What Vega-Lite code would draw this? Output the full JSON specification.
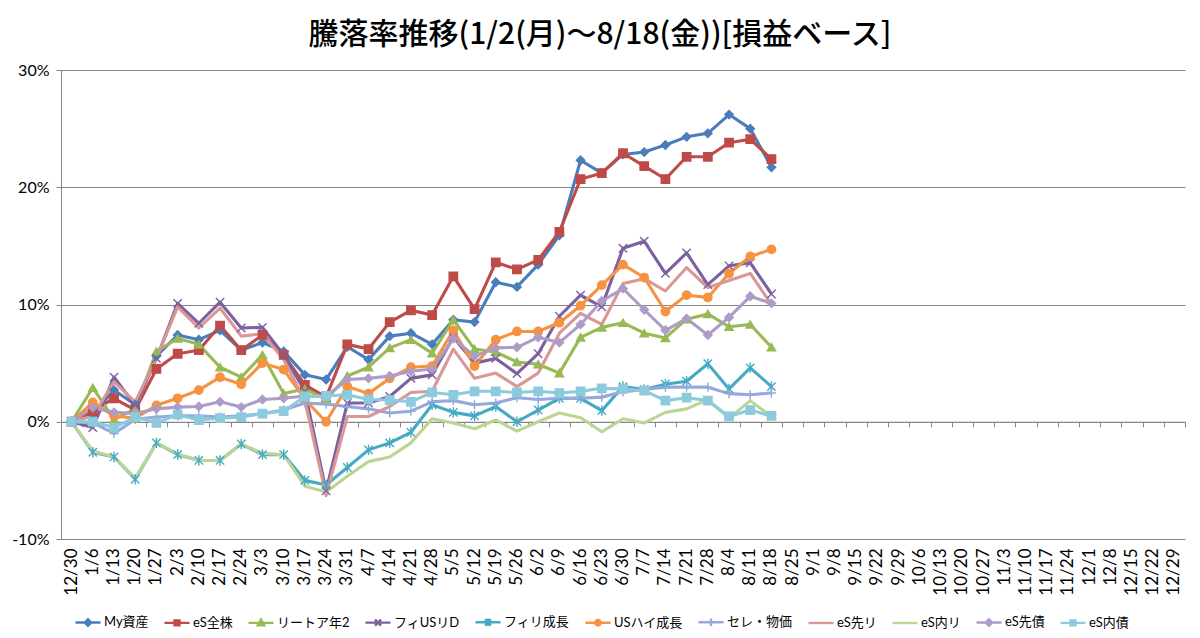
{
  "$schema": "https://vega.github.io/schema/vega-lite/v6.json",
  "width": 1124,
  "height": 469,
  "autosize": {"type": "none"},
  "padding": {"left": 61, "top": 70, "right": 15, "bottom": 99},
  "background": "white",
  "title": {
    "text": "騰落率推移(1/2(月)～8/18(金))[損益ベース]",
    "font": "Noto Sans CJK JP",
    "fontSize": 30,
    "fontWeight": 500,
    "color": "#000000",
    "anchor": "middle",
    "dx": -23,
    "offset": 12
  },
  "data": {
    "values": [
      {"d":"12/30","s":"My資産","v":0},{"d":"1/6","s":"My資産","v":0.6},{"d":"1/13","s":"My資産","v":2.7},{"d":"1/20","s":"My資産","v":1.45},{"d":"1/27","s":"My資産","v":5.6},{"d":"2/3","s":"My資産","v":7.4},{"d":"2/10","s":"My資産","v":7.0},{"d":"2/17","s":"My資産","v":7.8},{"d":"2/24","s":"My資産","v":6.1},{"d":"3/3","s":"My資産","v":6.75},{"d":"3/10","s":"My資産","v":6.0},{"d":"3/17","s":"My資産","v":4.0},{"d":"3/24","s":"My資産","v":3.6},{"d":"3/31","s":"My資産","v":6.4},{"d":"4/7","s":"My資産","v":5.3},{"d":"4/14","s":"My資産","v":7.3},{"d":"4/21","s":"My資産","v":7.55},{"d":"4/28","s":"My資産","v":6.6},{"d":"5/5","s":"My資産","v":8.7},{"d":"5/12","s":"My資産","v":8.5},{"d":"5/19","s":"My資産","v":11.9},{"d":"5/26","s":"My資産","v":11.5},{"d":"6/2","s":"My資産","v":13.4},{"d":"6/9","s":"My資産","v":15.9},{"d":"6/16","s":"My資産","v":22.3},{"d":"6/23","s":"My資産","v":21.2},{"d":"6/30","s":"My資産","v":22.8},{"d":"7/7","s":"My資産","v":23.0},{"d":"7/14","s":"My資産","v":23.6},{"d":"7/21","s":"My資産","v":24.3},{"d":"7/28","s":"My資産","v":24.6},{"d":"8/4","s":"My資産","v":26.2},{"d":"8/11","s":"My資産","v":25.0},{"d":"8/18","s":"My資産","v":21.7},
      {"d":"12/30","s":"eS全株","v":0},{"d":"1/6","s":"eS全株","v":0.9},{"d":"1/13","s":"eS全株","v":2.0},{"d":"1/20","s":"eS全株","v":1.0},{"d":"1/27","s":"eS全株","v":4.5},{"d":"2/3","s":"eS全株","v":5.8},{"d":"2/10","s":"eS全株","v":6.1},{"d":"2/17","s":"eS全株","v":8.2},{"d":"2/24","s":"eS全株","v":6.1},{"d":"3/3","s":"eS全株","v":7.4},{"d":"3/10","s":"eS全株","v":5.7},{"d":"3/17","s":"eS全株","v":3.15},{"d":"3/24","s":"eS全株","v":2.1},{"d":"3/31","s":"eS全株","v":6.6},{"d":"4/7","s":"eS全株","v":6.2},{"d":"4/14","s":"eS全株","v":8.5},{"d":"4/21","s":"eS全株","v":9.5},{"d":"4/28","s":"eS全株","v":9.1},{"d":"5/5","s":"eS全株","v":12.4},{"d":"5/12","s":"eS全株","v":9.6},{"d":"5/19","s":"eS全株","v":13.6},{"d":"5/26","s":"eS全株","v":13.0},{"d":"6/2","s":"eS全株","v":13.8},{"d":"6/9","s":"eS全株","v":16.2},{"d":"6/16","s":"eS全株","v":20.7},{"d":"6/23","s":"eS全株","v":21.2},{"d":"6/30","s":"eS全株","v":22.9},{"d":"7/7","s":"eS全株","v":21.8},{"d":"7/14","s":"eS全株","v":20.7},{"d":"7/21","s":"eS全株","v":22.6},{"d":"7/28","s":"eS全株","v":22.6},{"d":"8/4","s":"eS全株","v":23.8},{"d":"8/11","s":"eS全株","v":24.1},{"d":"8/18","s":"eS全株","v":22.4},
      {"d":"12/30","s":"リートア年2","v":0},{"d":"1/6","s":"リートア年2","v":2.9},{"d":"1/13","s":"リートア年2","v":0.2},{"d":"1/20","s":"リートア年2","v":1.1},{"d":"1/27","s":"リートア年2","v":6.0},{"d":"2/3","s":"リートア年2","v":7.1},{"d":"2/10","s":"リートア年2","v":6.6},{"d":"2/17","s":"リートア年2","v":4.65},{"d":"2/24","s":"リートア年2","v":3.8},{"d":"3/3","s":"リートア年2","v":5.7},{"d":"3/10","s":"リートア年2","v":2.4},{"d":"3/17","s":"リートア年2","v":2.8},{"d":"3/24","s":"リートア年2","v":1.9},{"d":"3/31","s":"リートア年2","v":3.9},{"d":"4/7","s":"リートア年2","v":4.65},{"d":"4/14","s":"リートア年2","v":6.3},{"d":"4/21","s":"リートア年2","v":7.0},{"d":"4/28","s":"リートア年2","v":5.85},{"d":"5/5","s":"リートア年2","v":8.7},{"d":"5/12","s":"リートア年2","v":6.2},{"d":"5/19","s":"リートア年2","v":5.95},{"d":"5/26","s":"リートア年2","v":5.1},{"d":"6/2","s":"リートア年2","v":4.9},{"d":"6/9","s":"リートア年2","v":4.15},{"d":"6/16","s":"リートア年2","v":7.2},{"d":"6/23","s":"リートア年2","v":8.05},{"d":"6/30","s":"リートア年2","v":8.45},{"d":"7/7","s":"リートア年2","v":7.55},{"d":"7/14","s":"リートア年2","v":7.15},{"d":"7/21","s":"リートア年2","v":8.75},{"d":"7/28","s":"リートア年2","v":9.2},{"d":"8/4","s":"リートア年2","v":8.1},{"d":"8/11","s":"リートア年2","v":8.3},{"d":"8/18","s":"リートア年2","v":6.35},
      {"d":"12/30","s":"フィUSリD","v":0},{"d":"1/6","s":"フィUSリD","v":-0.5},{"d":"1/13","s":"フィUSリD","v":3.8},{"d":"1/20","s":"フィUSリD","v":1.4},{"d":"1/27","s":"フィUSリD","v":5.4},{"d":"2/3","s":"フィUSリD","v":10.1},{"d":"2/10","s":"フィUSリD","v":8.4},{"d":"2/17","s":"フィUSリD","v":10.2},{"d":"2/24","s":"フィUSリD","v":8.0},{"d":"3/3","s":"フィUSリD","v":8.05},{"d":"3/10","s":"フィUSリD","v":5.7},{"d":"3/17","s":"フィUSリD","v":2.6},{"d":"3/24","s":"フィUSリD","v":-5.9},{"d":"3/31","s":"フィUSリD","v":1.6},{"d":"4/7","s":"フィUSリD","v":1.6},{"d":"4/14","s":"フィUSリD","v":2.15},{"d":"4/21","s":"フィUSリD","v":3.7},{"d":"4/28","s":"フィUSリD","v":4.0},{"d":"5/5","s":"フィUSリD","v":7.2},{"d":"5/12","s":"フィUSリD","v":5.0},{"d":"5/19","s":"フィUSリD","v":5.4},{"d":"5/26","s":"フィUSリD","v":4.1},{"d":"6/2","s":"フィUSリD","v":5.8},{"d":"6/9","s":"フィUSリD","v":9.0},{"d":"6/16","s":"フィUSリD","v":10.8},{"d":"6/23","s":"フィUSリD","v":9.8},{"d":"6/30","s":"フィUSリD","v":14.8},{"d":"7/7","s":"フィUSリD","v":15.4},{"d":"7/14","s":"フィUSリD","v":12.65},{"d":"7/21","s":"フィUSリD","v":14.4},{"d":"7/28","s":"フィUSリD","v":11.7},{"d":"8/4","s":"フィUSリD","v":13.3},{"d":"8/11","s":"フィUSリD","v":13.55},{"d":"8/18","s":"フィUSリD","v":10.9},
      {"d":"12/30","s":"フィリ成長","v":0},{"d":"1/6","s":"フィリ成長","v":-2.6},{"d":"1/13","s":"フィリ成長","v":-3.0},{"d":"1/20","s":"フィリ成長","v":-4.9},{"d":"1/27","s":"フィリ成長","v":-1.8},{"d":"2/3","s":"フィリ成長","v":-2.8},{"d":"2/10","s":"フィリ成長","v":-3.3},{"d":"2/17","s":"フィリ成長","v":-3.3},{"d":"2/24","s":"フィリ成長","v":-1.9},{"d":"3/3","s":"フィリ成長","v":-2.8},{"d":"3/10","s":"フィリ成長","v":-2.8},{"d":"3/17","s":"フィリ成長","v":-5.0},{"d":"3/24","s":"フィリ成長","v":-5.4},{"d":"3/31","s":"フィリ成長","v":-3.9},{"d":"4/7","s":"フィリ成長","v":-2.4},{"d":"4/14","s":"フィリ成長","v":-1.8},{"d":"4/21","s":"フィリ成長","v":-0.9},{"d":"4/28","s":"フィリ成長","v":1.45},{"d":"5/5","s":"フィリ成長","v":0.8},{"d":"5/12","s":"フィリ成長","v":0.5},{"d":"5/19","s":"フィリ成長","v":1.3},{"d":"5/26","s":"フィリ成長","v":0.0},{"d":"6/2","s":"フィリ成長","v":1.0},{"d":"6/9","s":"フィリ成長","v":2.0},{"d":"6/16","s":"フィリ成長","v":2.0},{"d":"6/23","s":"フィリ成長","v":0.95},{"d":"6/30","s":"フィリ成長","v":3.0},{"d":"7/7","s":"フィリ成長","v":2.75},{"d":"7/14","s":"フィリ成長","v":3.2},{"d":"7/21","s":"フィリ成長","v":3.45},{"d":"7/28","s":"フィリ成長","v":4.95},{"d":"8/4","s":"フィリ成長","v":2.8},{"d":"8/11","s":"フィリ成長","v":4.6},{"d":"8/18","s":"フィリ成長","v":3.0},
      {"d":"12/30","s":"USハイ成長","v":0},{"d":"1/6","s":"USハイ成長","v":1.65},{"d":"1/13","s":"USハイ成長","v":0.5},{"d":"1/20","s":"USハイ成長","v":0.3},{"d":"1/27","s":"USハイ成長","v":1.4},{"d":"2/3","s":"USハイ成長","v":2.0},{"d":"2/10","s":"USハイ成長","v":2.7},{"d":"2/17","s":"USハイ成長","v":3.8},{"d":"2/24","s":"USハイ成長","v":3.2},{"d":"3/3","s":"USハイ成長","v":5.0},{"d":"3/10","s":"USハイ成長","v":4.45},{"d":"3/17","s":"USハイ成長","v":1.9},{"d":"3/24","s":"USハイ成長","v":0.0},{"d":"3/31","s":"USハイ成長","v":3.0},{"d":"4/7","s":"USハイ成長","v":2.4},{"d":"4/14","s":"USハイ成長","v":3.7},{"d":"4/21","s":"USハイ成長","v":4.65},{"d":"4/28","s":"USハイ成長","v":4.75},{"d":"5/5","s":"USハイ成長","v":7.8},{"d":"5/12","s":"USハイ成長","v":4.75},{"d":"5/19","s":"USハイ成長","v":7.0},{"d":"5/26","s":"USハイ成長","v":7.7},{"d":"6/2","s":"USハイ成長","v":7.7},{"d":"6/9","s":"USハイ成長","v":8.45},{"d":"6/16","s":"USハイ成長","v":9.9},{"d":"6/23","s":"USハイ成長","v":11.65},{"d":"6/30","s":"USハイ成長","v":13.4},{"d":"7/7","s":"USハイ成長","v":12.3},{"d":"7/14","s":"USハイ成長","v":9.4},{"d":"7/21","s":"USハイ成長","v":10.8},{"d":"7/28","s":"USハイ成長","v":10.6},{"d":"8/4","s":"USハイ成長","v":12.65},{"d":"8/11","s":"USハイ成長","v":14.1},{"d":"8/18","s":"USハイ成長","v":14.7},
      {"d":"12/30","s":"セレ・物価","v":0},{"d":"1/6","s":"セレ・物価","v":-0.1},{"d":"1/13","s":"セレ・物価","v":-1.0},{"d":"1/20","s":"セレ・物価","v":0.2},{"d":"1/27","s":"セレ・物価","v":0.4},{"d":"2/3","s":"セレ・物価","v":0.5},{"d":"2/10","s":"セレ・物価","v":0.5},{"d":"2/17","s":"セレ・物価","v":0.4},{"d":"2/24","s":"セレ・物価","v":0.5},{"d":"3/3","s":"セレ・物価","v":0.7},{"d":"3/10","s":"セレ・物価","v":1.0},{"d":"3/17","s":"セレ・物価","v":1.6},{"d":"3/24","s":"セレ・物価","v":1.5},{"d":"3/31","s":"セレ・物価","v":1.3},{"d":"4/7","s":"セレ・物価","v":1.1},{"d":"4/14","s":"セレ・物価","v":0.75},{"d":"4/21","s":"セレ・物価","v":0.9},{"d":"4/28","s":"セレ・物価","v":1.7},{"d":"5/5","s":"セレ・物価","v":1.8},{"d":"5/12","s":"セレ・物価","v":1.45},{"d":"5/19","s":"セレ・物価","v":1.6},{"d":"5/26","s":"セレ・物価","v":2.05},{"d":"6/2","s":"セレ・物価","v":1.9},{"d":"6/9","s":"セレ・物価","v":2.0},{"d":"6/16","s":"セレ・物価","v":2.0},{"d":"6/23","s":"セレ・物価","v":2.1},{"d":"6/30","s":"セレ・物価","v":2.55},{"d":"7/7","s":"セレ・物価","v":2.75},{"d":"7/14","s":"セレ・物価","v":2.95},{"d":"7/21","s":"セレ・物価","v":2.95},{"d":"7/28","s":"セレ・物価","v":2.95},{"d":"8/4","s":"セレ・物価","v":2.4},{"d":"8/11","s":"セレ・物価","v":2.3},{"d":"8/18","s":"セレ・物価","v":2.45},
      {"d":"12/30","s":"eS先リ","v":0},{"d":"1/6","s":"eS先リ","v":0.5},{"d":"1/13","s":"eS先リ","v":3.4},{"d":"1/20","s":"eS先リ","v":1.7},{"d":"1/27","s":"eS先リ","v":5.4},{"d":"2/3","s":"eS先リ","v":9.8},{"d":"2/10","s":"eS先リ","v":8.0},{"d":"2/17","s":"eS先リ","v":9.7},{"d":"2/24","s":"eS先リ","v":7.3},{"d":"3/3","s":"eS先リ","v":7.5},{"d":"3/10","s":"eS先リ","v":5.3},{"d":"3/17","s":"eS先リ","v":1.8},{"d":"3/24","s":"eS先リ","v":-6.3},{"d":"3/31","s":"eS先リ","v":0.45},{"d":"4/7","s":"eS先リ","v":0.45},{"d":"4/14","s":"eS先リ","v":1.3},{"d":"4/21","s":"eS先リ","v":2.5},{"d":"4/28","s":"eS先リ","v":2.6},{"d":"5/5","s":"eS先リ","v":6.2},{"d":"5/12","s":"eS先リ","v":3.7},{"d":"5/19","s":"eS先リ","v":4.15},{"d":"5/26","s":"eS先リ","v":3.0},{"d":"6/2","s":"eS先リ","v":4.15},{"d":"6/9","s":"eS先リ","v":7.55},{"d":"6/16","s":"eS先リ","v":9.25},{"d":"6/23","s":"eS先リ","v":8.3},{"d":"6/30","s":"eS先リ","v":11.8},{"d":"7/7","s":"eS先リ","v":12.2},{"d":"7/14","s":"eS先リ","v":11.15},{"d":"7/21","s":"eS先リ","v":13.15},{"d":"7/28","s":"eS先リ","v":11.45},{"d":"8/4","s":"eS先リ","v":12.05},{"d":"8/11","s":"eS先リ","v":12.65},{"d":"8/18","s":"eS先リ","v":10.0},
      {"d":"12/30","s":"eS内リ","v":0},{"d":"1/6","s":"eS内リ","v":-2.5},{"d":"1/13","s":"eS内リ","v":-3.0},{"d":"1/20","s":"eS内リ","v":-4.8},{"d":"1/27","s":"eS内リ","v":-1.8},{"d":"2/3","s":"eS内リ","v":-2.75},{"d":"2/10","s":"eS内リ","v":-3.3},{"d":"2/17","s":"eS内リ","v":-3.3},{"d":"2/24","s":"eS内リ","v":-1.9},{"d":"3/3","s":"eS内リ","v":-2.7},{"d":"3/10","s":"eS内リ","v":-2.8},{"d":"3/17","s":"eS内リ","v":-5.5},{"d":"3/24","s":"eS内リ","v":-6.0},{"d":"3/31","s":"eS内リ","v":-4.65},{"d":"4/7","s":"eS内リ","v":-3.4},{"d":"4/14","s":"eS内リ","v":-3.0},{"d":"4/21","s":"eS内リ","v":-1.8},{"d":"4/28","s":"eS内リ","v":0.25},{"d":"5/5","s":"eS内リ","v":-0.1},{"d":"5/12","s":"eS内リ","v":-0.6},{"d":"5/19","s":"eS内リ","v":0.15},{"d":"5/26","s":"eS内リ","v":-0.8},{"d":"6/2","s":"eS内リ","v":0.0},{"d":"6/9","s":"eS内リ","v":0.75},{"d":"6/16","s":"eS内リ","v":0.35},{"d":"6/23","s":"eS内リ","v":-0.85},{"d":"6/30","s":"eS内リ","v":0.25},{"d":"7/7","s":"eS内リ","v":-0.1},{"d":"7/14","s":"eS内リ","v":0.8},{"d":"7/21","s":"eS内リ","v":1.1},{"d":"7/28","s":"eS内リ","v":1.9},{"d":"8/4","s":"eS内リ","v":0.3},{"d":"8/11","s":"eS内リ","v":1.8},{"d":"8/18","s":"eS内リ","v":0.45},
      {"d":"12/30","s":"eS先債","v":0},{"d":"1/6","s":"eS先債","v":1.2},{"d":"1/13","s":"eS先債","v":0.8},{"d":"1/20","s":"eS先債","v":0.7},{"d":"1/27","s":"eS先債","v":1.1},{"d":"2/3","s":"eS先債","v":1.25},{"d":"2/10","s":"eS先債","v":1.3},{"d":"2/17","s":"eS先債","v":1.7},{"d":"2/24","s":"eS先債","v":1.25},{"d":"3/3","s":"eS先債","v":1.9},{"d":"3/10","s":"eS先債","v":2.0},{"d":"3/17","s":"eS先債","v":2.2},{"d":"3/24","s":"eS先債","v":2.15},{"d":"3/31","s":"eS先債","v":3.6},{"d":"4/7","s":"eS先債","v":3.7},{"d":"4/14","s":"eS先債","v":3.9},{"d":"4/21","s":"eS先債","v":4.3},{"d":"4/28","s":"eS先債","v":4.5},{"d":"5/5","s":"eS先債","v":7.1},{"d":"5/12","s":"eS先債","v":5.6},{"d":"5/19","s":"eS先債","v":6.3},{"d":"5/26","s":"eS先債","v":6.35},{"d":"6/2","s":"eS先債","v":7.2},{"d":"6/9","s":"eS先債","v":6.75},{"d":"6/16","s":"eS先債","v":8.3},{"d":"6/23","s":"eS先債","v":10.3},{"d":"6/30","s":"eS先債","v":11.35},{"d":"7/7","s":"eS先債","v":9.55},{"d":"7/14","s":"eS先債","v":7.8},{"d":"7/21","s":"eS先債","v":8.8},{"d":"7/28","s":"eS先債","v":7.4},{"d":"8/4","s":"eS先債","v":8.9},{"d":"8/11","s":"eS先債","v":10.7},{"d":"8/18","s":"eS先債","v":10.1},
      {"d":"12/30","s":"eS内債","v":0},{"d":"1/6","s":"eS内債","v":0},{"d":"1/13","s":"eS内債","v":-0.5},{"d":"1/20","s":"eS内債","v":0.4},{"d":"1/27","s":"eS内債","v":-0.1},{"d":"2/3","s":"eS内債","v":0.6},{"d":"2/10","s":"eS内債","v":0.15},{"d":"2/17","s":"eS内債","v":0.3},{"d":"2/24","s":"eS内債","v":0.4},{"d":"3/3","s":"eS内債","v":0.7},{"d":"3/10","s":"eS内債","v":0.9},{"d":"3/17","s":"eS内債","v":2.15},{"d":"3/24","s":"eS内債","v":2.2},{"d":"3/31","s":"eS内債","v":2.3},{"d":"4/7","s":"eS内債","v":1.9},{"d":"4/14","s":"eS内債","v":1.85},{"d":"4/21","s":"eS内債","v":1.7},{"d":"4/28","s":"eS内債","v":2.5},{"d":"5/5","s":"eS内債","v":2.3},{"d":"5/12","s":"eS内債","v":2.6},{"d":"5/19","s":"eS内債","v":2.6},{"d":"5/26","s":"eS内債","v":2.5},{"d":"6/2","s":"eS内債","v":2.6},{"d":"6/9","s":"eS内債","v":2.45},{"d":"6/16","s":"eS内債","v":2.6},{"d":"6/23","s":"eS内債","v":2.85},{"d":"6/30","s":"eS内債","v":2.8},{"d":"7/7","s":"eS内債","v":2.65},{"d":"7/14","s":"eS内債","v":1.8},{"d":"7/21","s":"eS内債","v":2.05},{"d":"7/28","s":"eS内債","v":1.8},{"d":"8/4","s":"eS内債","v":0.45},{"d":"8/11","s":"eS内債","v":1.0},{"d":"8/18","s":"eS内債","v":0.5}
    ]
  },
  "layer": [
    {
      "mark": {"type": "line", "strokeWidth": 3.1, "strokeJoin": "round"},
      "encoding": {
        "x": {
          "field": "d",
          "type": "ordinal",
          "scale": {
            "type": "band",
            "paddingInner": 0,
            "paddingOuter": 0,
            "domain": ["12/30","1/6","1/13","1/20","1/27","2/3","2/10","2/17","2/24","3/3","3/10","3/17","3/24","3/31","4/7","4/14","4/21","4/28","5/5","5/12","5/19","5/26","6/2","6/9","6/16","6/23","6/30","7/7","7/14","7/21","7/28","8/4","8/11","8/18","8/25","9/1","9/8","9/15","9/22","9/29","10/6","10/13","10/20","10/27","11/3","11/10","11/17","11/24","12/1","12/8","12/15","12/22","12/29"]
          },
          "axis": {
            "orient": "bottom",
            "title": null,
            "labelAngle": 270,
            "labelAlign": "right",
            "labelBaseline": "middle",
            "labelFont": "Lato",
            "labelFontSize": 17,
            "labelColor": "#000000",
            "labelPadding": 9,
            "labelOverlap": false,
            "ticks": false,
            "domain": false,
            "grid": false
          }
        },
        "y": {
          "field": "v",
          "type": "quantitative",
          "scale": {"domain": [-10, 30], "nice": false, "zero": false},
          "axis": {
            "title": null,
            "values": [-10, 0, 10, 20, 30],
            "labelExpr": "datum.value + '%'",
            "labelFont": "Lato",
            "labelFontSize": 16,
            "labelColor": "#000000",
            "labelPadding": 7,
            "grid": true,
            "gridColor": "#868686",
            "gridWidth": 1,
            "domainColor": "#868686",
            "tickColor": "#868686",
            "tickSize": 5
          }
        },
        "color": {
          "field": "s",
          "type": "nominal",
          "scale": {
            "domain": ["My資産","eS全株","リートア年2","フィUSリD","フィリ成長","USハイ成長","セレ・物価","eS先リ","eS内リ","eS先債","eS内債"],
            "range": ["#4A7EBB","#BE4B48","#98B954","#7D60A0","#46AAC5","#F69240","#94A9DC","#D99795","#BCD595","#AE9CC8","#8DCADD"]
          },
          "legend": {
            "title": null,
            "orient": "none",
            "legendX": 13,
            "legendY": 538,
            "direction": "horizontal",
            "columns": 11,
            "columnPadding": 10,
            "labelFont": "Lato, Noto Sans CJK JP",
            "labelFontSize": 13,
            "labelColor": "#000000",
            "labelOffset": 2,
            "symbolSize": 625,
            "symbolStrokeWidth": 2.4,
            "encode": {
              "symbols": {
                "update": {
                  "shape": {"signal": "({'My資産':'M-1,0H1M0,-0.26L0.26,0L0,0.26L-0.26,0Z','eS全株':'M-1,0H1M-0.2,-0.2H0.2V0.2H-0.2Z','リートア年2':'M-1,0H1M0,-0.26L0.26,0.2H-0.26Z','フィUSリD':'M-1,0H1M-0.24,-0.24L0.24,0.24M-0.24,0.24L0.24,-0.24','フィリ成長':'M-1,0H1M-0.24,-0.24L0.24,0.24M-0.24,0.24L0.24,-0.24M0,-0.3V0.3','USハイ成長':'M-1,0H1M0.22,0A0.22,0.22,0,1,1,-0.22,0A0.22,0.22,0,1,1,0.22,0Z','セレ・物価':'M-1,0H1M0,-0.3V0.3','eS先リ':'M-1,0H1','eS内リ':'M-1,0H1','eS先債':'M-1,0H1M0,-0.26L0.26,0L0,0.26L-0.26,0Z','eS内債':'M-1,0H1M-0.2,-0.2H0.2V0.2H-0.2Z'})[datum.value]"},
                  "fill": {"signal": "scale('color', datum.value)"},
                  "stroke": {"signal": "scale('color', datum.value)"},
                  "opacity": {"value": 1}
                }
              }
            }
          }
        }
      }
    },
    {
      "transform": [{"filter": {"not": {"field": "s", "oneOf": ["eS先リ", "eS内リ"]}}}],
      "mark": {"type": "point", "filled": true, "size": 70, "opacity": 1, "strokeWidth": 1.4},
      "encoding": {
        "x": {
          "field": "d",
          "type": "ordinal",
          "axis": {
            "orient": "bottom",
            "offset": -117.25,
            "title": null,
            "labels": false,
            "grid": false,
            "domain": true,
            "domainColor": "#868686",
            "ticks": true,
            "tickBand": "extent",
            "tickColor": "#868686",
            "tickSize": 5
          }
        },
        "y": {"field": "v", "type": "quantitative"},
        "color": {"field": "s", "type": "nominal", "legend": null},
        "stroke": {
          "field": "s",
          "type": "nominal",
          "scale": {
            "domain": ["My資産","eS全株","リートア年2","フィUSリD","フィリ成長","USハイ成長","セレ・物価","eS先債","eS内債"],
            "range": ["#4A7EBB","#BE4B48","#98B954","#7D60A0","#46AAC5","#F69240","#94A9DC","#AE9CC8","#8DCADD"]
          },
          "legend": null
        },
        "shape": {
          "field": "s",
          "type": "nominal",
          "scale": {
            "domain": ["My資産","eS全株","リートア年2","フィUSリD","フィリ成長","USハイ成長","セレ・物価","eS先債","eS内債"],
            "range": ["diamond","square","triangle-up","M-1,-1L1,1M-1,1L1,-1","M-1,-1L1,1M-1,1L1,-1M0,-1.25V1.25","circle","M-1.1,0H1.1M0,-1.1V1.1","diamond","square"]
          },
          "legend": null
        }
      }
    }
  ],
  "resolve": {"axis": {"x": "independent"}},
  "config": {
    "view": {"stroke": null},
    "font": "Lato"
  }
}
